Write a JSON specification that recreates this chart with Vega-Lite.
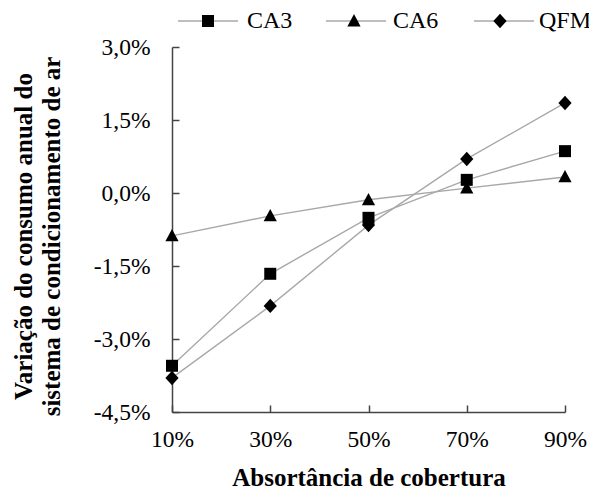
{
  "$schema": "https://vega.github.io/schema/vega-lite/v6.json",
  "autosize": "none",
  "width": 393,
  "height": 365,
  "padding": {"left": 172, "top": 47, "right": 24, "bottom": 78},
  "background": "white",
  "config": {
    "view": {"stroke": null},
    "font": "Liberation Serif, Times New Roman, serif",
    "axis": {
      "labelFont": "Liberation Serif, Times New Roman, serif",
      "labelFontSize": 23.5,
      "labelColor": "black",
      "labelFlush": false,
      "titleFont": "Liberation Serif, Times New Roman, serif",
      "titleFontSize": 25,
      "titleFontWeight": "bold",
      "titleColor": "black",
      "domainColor": "#444",
      "tickColor": "#444",
      "domainWidth": 1.5,
      "tickWidth": 1.5,
      "grid": false
    },
    "legend": {
      "labelFont": "Liberation Serif, Times New Roman, serif",
      "labelFontSize": 24,
      "labelColor": "black",
      "title": null,
      "orient": "none",
      "direction": "horizontal",
      "legendX": 5,
      "legendY": -57,
      "symbolSize": 3600,
      "labelOffset": 8,
      "columnPadding": 30
    }
  },
  "data": {
    "values": [
      {"abs": 10, "serie": "CA3", "v": -3.55},
      {"abs": 30, "serie": "CA3", "v": -1.66},
      {"abs": 50, "serie": "CA3", "v": -0.51},
      {"abs": 70, "serie": "CA3", "v": 0.27},
      {"abs": 90, "serie": "CA3", "v": 0.86},
      {"abs": 10, "serie": "CA6", "v": -0.88},
      {"abs": 30, "serie": "CA6", "v": -0.47},
      {"abs": 50, "serie": "CA6", "v": -0.14},
      {"abs": 70, "serie": "CA6", "v": 0.10},
      {"abs": 90, "serie": "CA6", "v": 0.33},
      {"abs": 10, "serie": "QFM", "v": -3.80},
      {"abs": 30, "serie": "QFM", "v": -2.32},
      {"abs": 50, "serie": "QFM", "v": -0.66},
      {"abs": 70, "serie": "QFM", "v": 0.70},
      {"abs": 90, "serie": "QFM", "v": 1.85}
    ]
  },
  "encoding": {
    "x": {
      "field": "abs",
      "type": "quantitative",
      "scale": {"domain": [10, 90], "nice": false, "zero": false},
      "axis": {
        "values": [10, 30, 50, 70, 90],
        "labelExpr": "datum.value + '%'",
        "tickSize": -7,
        "labelPadding": 22,
        "title": "Absortância de cobertura",
        "titlePadding": 15
      }
    },
    "y": {
      "field": "v",
      "type": "quantitative",
      "scale": {"domain": [-4.5, 3], "nice": false, "zero": false},
      "axis": {
        "values": [-4.5, -3, -1.5, 0, 1.5, 3],
        "labelExpr": "(datum.value < 0 ? '-' : '') + replace(format(abs(datum.value), '.1f'), '.', ',') + '%'",
        "tickSize": -7,
        "labelPadding": 29,
        "title": ["Variação do consumo anual do", "sistema de condicionamento de ar"],
        "titlePadding": 29,
        "titleLineHeight": 28,
        "titleY": 189
      }
    }
  },
  "layer": [
    {
      "mark": {"type": "line", "strokeWidth": 1.4},
      "encoding": {
        "color": {
          "field": "serie",
          "type": "nominal",
          "scale": {"range": ["#a8a8a8", "#a8a8a8", "#a8a8a8"]},
          "legend": {
            "symbolType": "stroke",
            "symbolStrokeWidth": 1.4,
            "symbolStrokeColor": "#a8a8a8",
            "labelOpacity": 0
          }
        }
      }
    },
    {
      "mark": {"type": "point", "filled": true, "fill": "black", "fillOpacity": 1, "stroke": null, "size": 3600},
      "encoding": {
        "shape": {
          "field": "serie",
          "type": "nominal",
          "scale": {
            "domain": ["CA3", "CA6", "QFM"],
            "range": [
              "M-0.2,-0.2H0.2V0.2H-0.2Z",
              "M0,-0.23L0.22,0.18H-0.22Z",
              "M0,-0.24L0.22,0L0,0.24L-0.22,0Z"
            ]
          },
          "legend": {"symbolFillColor": "black"}
        }
      }
    }
  ]
}
